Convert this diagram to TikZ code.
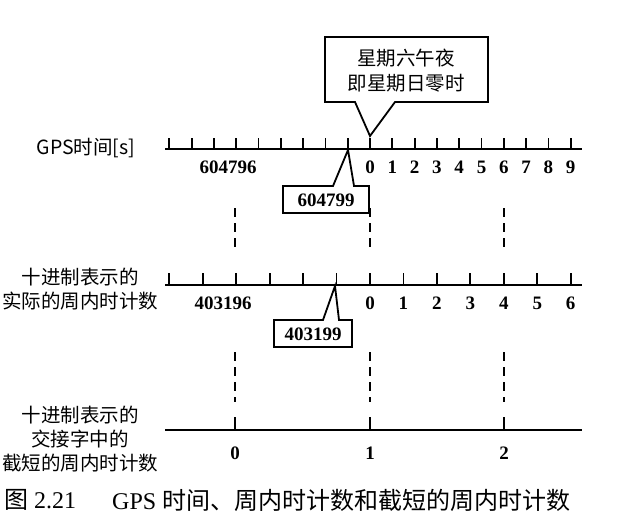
\documentclass[tikz,border=0pt]{standalone}
\usepackage{fontspec}
\setmainfont{Liberation Serif}
\newfontfamily\cjk{Noto Sans CJK SC}
\begin{document}
\begin{tikzpicture}[x=1pt,y=-1pt,
  axisline/.style={line width=2.8pt},
  tickline/.style={line width=1.8pt},
  num/.style={font=\fontsize{19}{19}\selectfont\bfseries, inner sep=0pt},
  lab/.style={font=\fontsize{19.5}{24}\selectfont\cjk, align=center, inner sep=0pt},
  boxline/.style={line width=1.8pt, line join=miter},
  guide/.style={line width=1.8pt, dash pattern=on 9pt off 6pt},
  captiontext/.style={font=\fontsize{24}{24}\selectfont, inner sep=0pt, anchor=west}]
\useasboundingbox (0,0) rectangle (617,515);

% ---------- Row 1: GPS time ----------
\node[lab] (glab) at (86,148) {GPS{\cjk 时间}[s]};
\coordinate (gL) at (165,149);
\coordinate (gR) at (582,149);
\draw[axisline] (gL) -- (gR);
\foreach \i in {-9,...,9} {
  \coordinate (gt\i) at ({370+22.3*\i},149);
  \draw[tickline] (gt\i) -- ++(0,-11);
}
\foreach \i in {0,...,9} {
  \node[num] (gn\i) at ({370+22.3*\i},167) {\i};
}
\node[num] (gnA) at (228,167) {604796};

% callout "Saturday midnight"
\coordinate (ctip) at (370,136);
\draw[boxline] (325,37) -- (488,37) -- (488,102) -- (395,102) -- (ctip) -- (355,102) -- (325,102) -- cycle;
\node[lab] (midnight) at (406,70.5) {星期六午夜\\[1pt]即星期日零时};

% 604799 box
\coordinate (gtip) at (348,150);
\draw[boxline] (283,186) -- (333,186) -- (gtip) -- (354,186) -- (369,186) -- (369,213) -- (283,213) -- cycle;
\node[num] (gbox) at (326,200) {604799};

% guides row1 -> row2
\foreach \x [count=\k] in {235,370,504} {
  \coordinate (ua\k) at (\x,208);
  \coordinate (ub\k) at (\x,250);
  \draw[guide] (ua\k) -- (ub\k);
}

% ---------- Row 2: actual time of week ----------
\node[lab] (wlab) at (80,289) {十进制表示的\\实际的周内时计数};
\coordinate (wL) at (165,285);
\coordinate (wR) at (582,285);
\draw[axisline] (wL) -- (wR);
\foreach \i in {-6,...,6} {
  \coordinate (wt\i) at ({370+33.45*\i},285);
  \draw[tickline] (wt\i) -- ++(0,-12);
}
\foreach \i in {0,...,6} {
  \node[num] (wn\i) at ({370+33.45*\i},303) {\i};
}
\node[num] (wnA) at (223,303) {403196};

% 403199 box
\coordinate (wtip) at (335,286);
\draw[boxline] (274,320) -- (323,320) -- (wtip) -- (339,320) -- (352,320) -- (352,347) -- (274,347) -- cycle;
\node[num] (wbox) at (313,334) {403199};

% guides row2 -> row3
\foreach \x [count=\k] in {235,370,504} {
  \coordinate (va\k) at (\x,352);
  \coordinate (vb\k) at (\x,402);
  \draw[guide] (va\k) -- (vb\k);
}

% ---------- Row 3: truncated time of week ----------
\node[lab] (tlab) at (80,439) {十进制表示的\\交接字中的\\截短的周内时计数};
\coordinate (tL) at (165,430);
\coordinate (tR) at (582,430);
\draw[axisline] (tL) -- (tR);
\foreach \x [count=\k from 0] in {235,370,504} {
  \coordinate (tt\k) at (\x,430);
  \draw[tickline] (tt\k) -- ++(0,-13);
  \node[num] (tn\k) at (\x,453) {\k};
}

% ---------- Caption ----------
\node[captiontext] (capnum) at (4,500) {{\cjk 图} 2.21};
\node[captiontext] (captext) at (112,500) {GPS {\cjk 时间、周内时计数和截短的周内时计数}};
\end{tikzpicture}
\end{document}
